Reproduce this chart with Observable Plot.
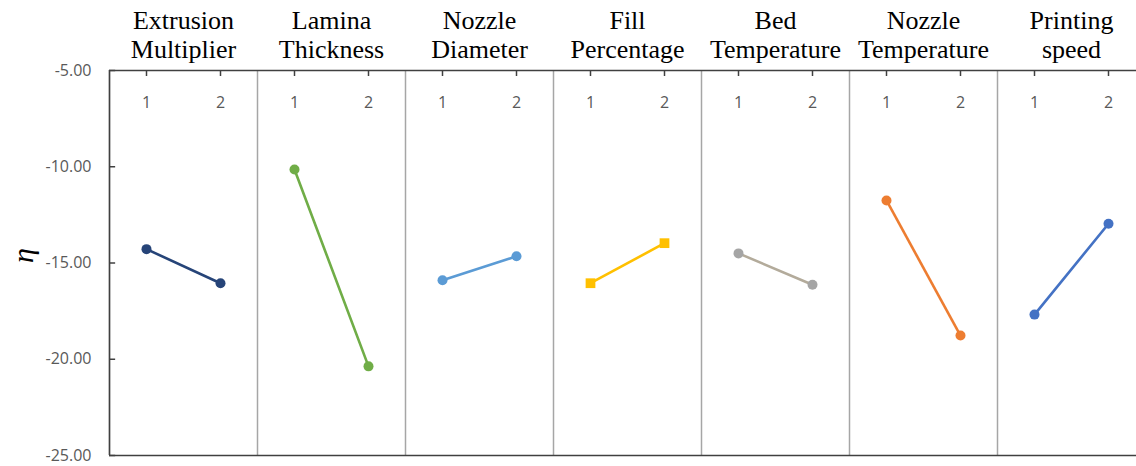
<!DOCTYPE html>
<html><head><meta charset="utf-8">
<script src="https://cdn.jsdelivr.net/npm/d3@7"></script>
<script src="https://cdn.jsdelivr.net/npm/@observablehq/plot@0.6"></script>
<style>html,body{margin:0;padding:0;background:#fff;overflow:hidden;} svg{max-width:none !important;}</style>
</head><body><div id="chart"></div>
<script>
const factors = ["Extrusion\nMultiplier","Lamina\nThickness","Nozzle\nDiameter","Fill\nPercentage","Bed\nTemperature","Nozzle\nTemperature","Printing\nspeed"];
const levels = [1, 2];
const level1 = [-14.28, -10.14, -15.90, -16.05, -14.50, -11.75, -17.68];
const level2 = [-16.05, -20.37, -14.65, -13.97, -16.13, -18.77, -12.96];
const dotColors  = ["#264478","#70ad47","#5b9bd5","#ffc000","#a5a5a5","#ed7d31","#4472c4"];
const lineColors = ["#264478","#70ad47","#5b9bd5","#ffc000","#b3ab9b","#ed7d31","#4472c4"];
const markers = ["circle","circle","circle","square","circle","circle","circle"];
const yTicks = [-5, -10, -15, -20, -25];
const yDomain = [-25, -5];
const xDomain = [0.5, 2.5];

const W = 1148, H = 466, ML = 106, MT = 70, MB = 11;
const facetW = (W - ML) / factors.length;

const data = factors.flatMap((f, i) => levels.map((lv, j) => ({
  factor: f, level: lv, eta: j === 0 ? level1[i] : level2[i], i
})));
const edges = factors.map(f => ({f, x: xDomain[0]}));

const chart = Plot.plot({
  width: W, height: H,
  marginLeft: ML, marginRight: 0, marginTop: MT, marginBottom: MB,
  style: {fontFamily: "Open Sans", background: "#fff", maxWidth: "none"},
  fx: {domain: factors, padding: 0, axis: null},
  x: {domain: xDomain, axis: null},
  y: {domain: yDomain, axis: null},
  marks: [
    Plot.ruleX(edges, {fx: "f", x: "x", stroke: "#a6a6a6", strokeWidth: 1.5}),
    Plot.ruleX(edges.slice(0, 1), {fx: "f", x: "x", stroke: "#404040", strokeWidth: 1.5}),
    Plot.ruleY([yDomain[1], yDomain[0]], {stroke: "#404040", strokeWidth: 1.5}),
    // y ticks (inward) and labels on the first panel
    Plot.tickY(yTicks, {fx: () => factors[0], y: d => d, stroke: "#404040", strokeWidth: 1.5, insetRight: facetW - 7}),
    Plot.text(yTicks, {fx: () => factors[0], y: d => d, text: d => d.toFixed(2), frameAnchor: "left",
      textAnchor: "end", dx: -18, fontSize: 16, fill: "#595959"}),
    // x ticks (inward) and labels at the top of each panel
    Plot.tickX(levels, {x: d => d, stroke: "#404040", strokeWidth: 1.5, insetBottom: H - MT - MB - 6}),
    Plot.text(levels, {x: d => d, text: d => String(d), frameAnchor: "top", dy: 26, fontSize: 16, fill: "#595959"}),
    Plot.line(data, {fx: "factor", x: "level", y: "eta", stroke: d => lineColors[d.i], strokeWidth: 2.6}),
    Plot.dot(data.filter(d => markers[d.i] === "circle"), {fx: "factor", x: "level", y: "eta", fill: d => dotColors[d.i], r: 5, symbol: "circle"}),
    Plot.dot(data.filter(d => markers[d.i] === "square"), {fx: "factor", x: "level", y: "eta", fill: d => dotColors[d.i], r: 5.5, symbol: "square"}),
    Plot.text(factors, {fx: d => d, text: d => d, frameAnchor: "top", lineAnchor: "top", dy: -61,
      fontFamily: "Liberation Serif", fontSize: 26, lineHeight: 1.08, fill: "#000"}),
    Plot.text(edges.slice(0, 1), {fx: "f", text: () => "η", frameAnchor: "left", dx: -86, rotate: -90,
      fontFamily: "Liberation Serif", fontStyle: "italic", fontSize: 30, fill: "#000"})
  ]
});
document.getElementById("chart").appendChild(chart);
</script>
</body></html>
